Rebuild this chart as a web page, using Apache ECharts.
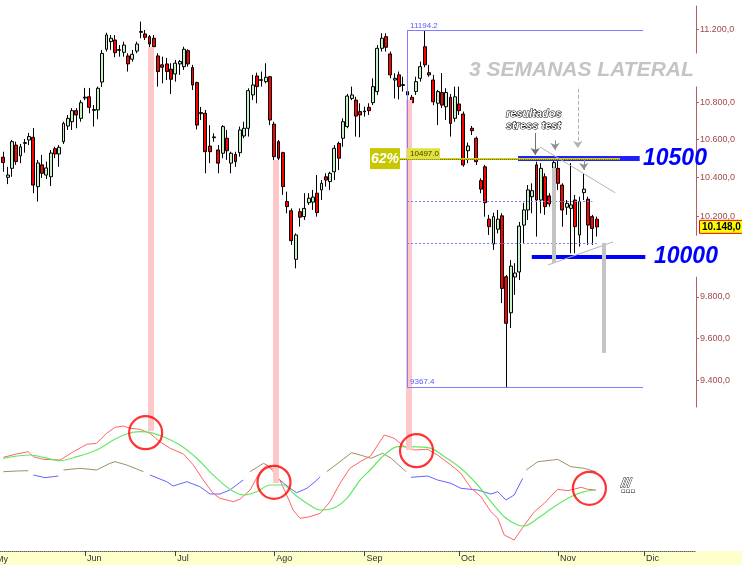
<!DOCTYPE html>
<html><head><meta charset="utf-8">
<script src="https://cdn.jsdelivr.net/npm/echarts@6/dist/echarts.min.js"></script>
<style>html,body{margin:0;padding:0;background:#fff}#c{width:742px;height:565px}</style>
</head><body><div id="c"></div>
<script>
// ---------- DATA ----------
const opens = [10507,10402,10449,10571,10514,10580,10598,10612,10354,10467,10414,10405,10552,10524,10589,10672,10695,10754,10713,10822,
10829,10760,10758,10909,11089,11131,11140,11083,11072,11052,11034,11079,11183,11174,11159,11150,11052,11003,11008,10979,
10953,11008,10993,11081,10988,10906,10738,10740,10566,10610,10545,10528,10607,10476,10522,10531,10619,10660,10839,10942,
10918,10911,10938,10682,10589,10531,10277,10230,9985,10225,10200,10271,10274,10320,10337,10405,10380,10431,10580,10607,
10669,10820,10811,10749,10748,10772,10797,10857,11094,11159,11063,10920,10948,10890,10857,10826,10857,10929,11103,10960,
10920,10794,10852,10775,10826,10713,10790,10736,10541,10660,10607,10385,10457,10187,10062,10136,10204,9898,9722,9897,
9922,10157,10234,10302,10467,10285,10405,10306,10449,10449,10362,10248,10242,10285,10107,10323,10289,10200,10187];
const closes = [10479,10414,10589,10484,10562,10584,10616,10362,10477,10423,10451,10529,10524,10559,10686,10713,10754,10731,10797,10827,
10772,10756,10875,11066,11168,11150,11070,11087,11112,11008,11061,11118,11188,11155,11118,11103,10966,10990,10966,10924,
11012,11021,11089,11008,10893,10677,10744,10536,10536,10614,10476,10669,10541,10528,10484,10651,10660,10862,10893,10884,
10922,10935,10704,10510,10502,10354,10251,10078,10107,10197,10242,10294,10300,10220,10371,10388,10423,10554,10502,10695,
10833,10839,10725,10731,10752,10754,10884,11094,11150,11100,10948,10929,10884,10895,10839,10797,10911,10993,11003,10948,
10802,10857,10784,10852,10686,10829,10754,10467,10566,10647,10484,10341,10271,10149,10200,10187,9841,9671,9951,9917,
10152,10234,10337,10333,10285,10449,10251,10265,10479,10371,10234,10268,10260,10149,10277,10341,10157,10140,10148];
const lows = [10431,10367,10405,10467,10476,10531,10571,10320,10277,10399,10393,10357,10502,10457,10577,10651,10651,10660,10695,10811,
10740,10669,10708,10882,11076,11085,11045,11048,11048,10966,11021,11067,11150,11140,11094,11085,10884,10902,10920,10844,
10911,10948,10975,10993,10866,10654,10704,10423,10476,10589,10423,10502,10493,10423,10457,10510,10607,10616,10811,10794,
10884,10902,10677,10476,10457,10311,10217,10057,9940,10149,10183,10260,10234,10200,10285,10354,10337,10388,10440,10562,
10660,10811,10616,10612,10722,10731,10784,10839,11076,11076,10929,10820,10815,10857,10820,10740,10839,10911,10990,10938,
10784,10677,10768,10704,10616,10695,10731,10457,10476,10624,10467,10320,10200,10107,10032,10115,9769,9367.4,9648,9809,
9882,10067,10183,10217,10099,10217,10209,10251,10414,10337,10149,10209,10015,10015,10049,10285,10057,10057,10099];
const highs = [10536,10457,10598,10589,10577,10603,10635,10661,10493,10519,10484,10545,10562,10571,10695,10731,10768,10768,10811,10877,
10877,10784,10884,11085,11181,11168,11168,11112,11131,11067,11085,11131,11243,11196,11168,11168,11067,11048,11041,11012,
11030,11030,11103,11089,11003,10911,10774,10758,10677,10633,10571,10677,10651,10536,10536,10669,10695,10875,10948,10960,
10966,11012,10942,10695,10598,10536,10328,10242,10115,10242,10320,10320,10337,10414,10388,10423,10431,10571,10589,10713,
10844,10884,10829,10794,10775,10794,10929,11112,11178,11178,11076,10957,10966,10938,10884,10839,10938,11021,11194.2,11003,
10948,10866,10958,10875,10844,10884,10884,10749,10584,10672,10616,10397,10467,10209,10220,10234,10217,9907,9981,9966,
10173,10270,10362,10371,10484,10476,10423,10320,10510,10493,10371,10285,10476,10311,10302,10423,10302,10209,10200];

// oscillator lines: [bar, value]
const fastLine = [[0,87.7],[3.1,91],[5.8,93.3],[7,88.3],[9.3,85.7],[13.2,85],[16.3,93.3],[19.4,100.7],[21.7,101.7],[24,111.7],[26,117.7],[27.9,119],[29.5,116.7],[31.8,115.7],[34.1,111.7],[36.4,103.3],[38.8,96.7],[41.9,91],[44.2,80],[46.5,65],[48.8,51.7],[50.4,46.7],[53.5,43.3],[55,45.7],[57.4,55],[59.7,73.3],[61.3,80],[62.8,73.3],[64.3,65],[65.9,50],[67.4,35],[69,26.7],[71.3,28.3],[73.7,31.7],[76,43.3],[78.3,61.7],[80.6,76.7],[83,83.3],[85.4,89],[88.6,110],[90.9,106.7],[93.3,98.3],[95.6,95],[98.7,95.7],[101,90],[104.1,80],[106.4,71.7],[108.8,56.7],[111.1,48.3],[113.4,33.3],[115,26.7],[116.5,10],[118.8,5],[121.2,20],[123.5,33.3],[125.8,41.7],[128.9,55.7],[131.3,54.3],[134.4,57.7],[135.9,55.7],[137.8,55]];
const slowLine = [[0,86.7],[6.2,90],[9.3,87.7],[13.2,84.3],[17.1,88.3],[21.7,95],[25.6,105],[28.7,111],[31.8,113.3],[34.1,112.7],[37.2,108.3],[41.1,100],[45,86.7],[48.8,70],[52.7,55.7],[55.8,50],[58.9,53.3],[62,60],[65.1,60],[67.4,51.7],[70.6,41.7],[73.7,35],[76.7,36.7],[79.9,46.7],[83,65],[85.3,75],[88.6,90],[91.7,98.3],[94.8,98.3],[99.5,96.7],[102.6,88.3],[106.4,76.7],[110.3,60],[113.4,43.3],[116.5,28.3],[119.6,20],[121.2,19],[124.3,26.7],[128.1,38.3],[132,48.3],[135.1,53.3],[137.8,55]];
const trendUpSegments = [
 [[0,73.3],[3.1,74],[5.8,74.3]],
 [[14,75],[17.8,76.7],[21.7,75],[24.8,81.7],[26,83.3],[28.7,80],[32.6,73.3]],
 [[57.4,73.3],[60.5,81.7],[62,78.3],[63.6,73]],
 [[75.2,73.3],[78.3,83.3],[81,92.3],[83,90],[85.5,86.7],[88.2,91.7],[90.2,86.7],[93.7,73.3]],
 [[121.6,75],[124.3,83.3],[127.8,85],[128.9,85.7],[132,78.3],[135.1,76.7],[137.8,73.3]]
];
const trendDownSegments = [
 [[7,70],[9.7,67.3],[12.8,69]],
 [[34.1,70],[38,63.3],[39.5,59],[42.7,63.3],[45.7,58.3],[48.1,51],[50.4,51],[52.7,55],[55.8,65]],
 [[64.3,65],[66.7,56.7],[68.2,52.3],[70.6,56.7],[72.5,63.3],[73.7,68.3]],
 [[94.8,67.7],[98.7,69],[101,65],[104.1,61.7],[106.4,56.7],[110.3,55],[113.4,51],[115,53.3],[116.9,45],[118.8,50],[120.8,66.7]]
];
const circleBars = [33.1, 62.95, 96.1, 136.3];
const circleValues = [112.3, 62.7, 94.3, 56.7];

// axis labels
const monthLabels = ['Jun','Jul','Ago','Sep','Oct','Nov','Dic'];
const monthBars = [19, 40, 63, 84, 106, 129, 149];
const priceTicks = [9400, 9600, 9800, 10200, 10400, 10600, 10800, 11200];

// annotation levels
const fibHigh = 11194.2, fibLow = 9367.4, fib618 = 10497.0, fib50 = 10280.8, fib382 = 10065.2;
const resistance = 10500, support = 10000, lastPrice = 10148;
const pinkBars = [34.35, 63.3, 94.35];
const pinkTopPrice = [11102, 10493, 10811];
const pinkBottomValue = [114, 62, 95];

// ---------- CHART ----------
const L = Math.log;
const X_MIN = -0.767, X_MAX = 161.09;
const P_MIN = 9275.2, P_MAX = 11331;
function fmt(v){const s=v.toFixed(1).split('.');return s[0].replace(/\B(?=(\d{3})+(?!\d))/g,'.')+','+s[1];}
function fmt0(v){return v.toFixed(1);}
const candleData = opens.map((o,i)=>[i,L(o),L(closes[i]),L(lows[i]),L(highs[i])]);
function seg(x1,p1,x2,p2,style){return [{coord:[x1,L(p1)],lineStyle:style},{coord:[x2,L(p2)]}];}
function oseg(x1,v1,x2,v2,style){return [{coord:[x1,v1],lineStyle:style},{coord:[x2,v2]}];}

const fibStart = 93.9, fibEnd = 148.8;
const pinkStyle = {color:'#ffc8c8', width:6, type:'solid', opacity:1};
const fibStyle = {color:'#8080ff', width:1, type:'solid'};
const fibDot = {color:'#7878ff', width:1, type:[2,2]};

const chart = echarts.init(document.getElementById('c'));
const series = [
 {type:'line', xAxisIndex:0, yAxisIndex:0, data:[], z:1, silent:true,
  markLine:{silent:true, symbol:['none','none'], label:{show:false}, animation:false,
   data:[
    ...pinkBars.map((b,k)=>seg(b,pinkTopPrice[k],b,P_MIN,pinkStyle)),
    seg(fibStart,fibHigh,fibStart,fibLow,fibStyle),
    seg(fibStart,fibHigh,fibEnd,fibHigh,fibStyle),
    seg(fibStart,fibLow,fibEnd,fibLow,fibStyle),
    seg(fibStart,fib50,137,fib50,fibDot),
    seg(fibStart,fib382,138,fib382,fibDot)
   ]}},
 {type:'candlestick', xAxisIndex:0, yAxisIndex:0, data:candleData, barWidth:3.4, z:3,
  itemStyle:{color:'#c4f4c4', color0:'#ff0000', borderColor:'#000', borderColor0:'#000', borderWidth:1}},
 {type:'line', xAxisIndex:0, yAxisIndex:0, data:[], z:4, silent:true,
  markLine:{silent:true, symbol:['none','none'], label:{show:false}, animation:false,
   data:[
    seg(119.7,resistance,148,resistance,{color:'#2020ff',width:5,type:'solid'}),
    seg(92.3,fib618,143.4,fib618,{color:'#d4d400',width:2,type:'solid'}),
    seg(92.3,fib618,143.4,fib618,{color:'#555',width:1,type:'dotted'}),
    seg(122.9,support,149.3,support,{color:'#0000ff',width:4,type:'solid'}),
    seg(124.8,10561,142.3,10322,{color:'#b4b4b4',width:1,type:'solid'}),
    seg(126.7,9957,141.8,10072,{color:'#b4b4b4',width:1,type:'solid'}),
    seg(127.9,10451,127.9,9966,{color:'#c4c4c4',width:4,type:'solid'}),
    seg(139.7,10067,139.7,9529,{color:'#c4c4c4',width:4,type:'solid'})
   ]}},
 {type:'line', xAxisIndex:0, yAxisIndex:0, data:[], z:4, silent:true,
  markLine:{silent:true, symbol:['none','arrow'], symbolSize:7, label:{show:false}, animation:false,
   data:[
    seg(133.6,10905,133.6,10556,{color:'#b0b0b0',width:1,type:'dashed'}),
    seg(123.7,10635,123.7,10519,{color:'#707070',width:1,type:'solid'}),
    seg(128.3,10596,128.3,10545,{color:'#909090',width:1,type:'solid'}),
    seg(135,10493,135,10440,{color:'#909090',width:1,type:'solid'})
   ]}},
 {type:'line', xAxisIndex:1, yAxisIndex:1, data:[], z:1, silent:true,
  markLine:{silent:true, symbol:['none','none'], label:{show:false}, animation:false,
   data: pinkBars.map((b,k)=>oseg(b,140,b,pinkBottomValue[k],pinkStyle))}},
 {type:'line', xAxisIndex:1, yAxisIndex:1, data:fastLine, showSymbol:false, z:3,
  lineStyle:{color:'#ff6464', width:1}},
 {type:'line', xAxisIndex:1, yAxisIndex:1, data:slowLine, showSymbol:false, smooth:0.3, z:3,
  lineStyle:{color:'#64e864', width:1.2}},
 ...trendUpSegments.map(s=>({type:'line', xAxisIndex:1, yAxisIndex:1, data:s, showSymbol:false, z:2,
  lineStyle:{color:'#a09064', width:1}})),
 ...trendDownSegments.map(s=>({type:'line', xAxisIndex:1, yAxisIndex:1, data:s, showSymbol:false, z:2,
  lineStyle:{color:'#6464ff', width:1}})),
 {type:'scatter', xAxisIndex:1, yAxisIndex:1, z:6, silent:true,
  data: circleBars.map((b,k)=>[b,circleValues[k]]), symbol:'circle', symbolSize:33,
  itemStyle:{color:'rgba(0,0,0,0)', borderColor:'#ff0000', borderWidth:2.2}}
];

chart.setOption({
 animation:false,
 backgroundColor:'#ffffff',
 grid:[
  {left:0, right:46, top:6, height:401, outerBoundsMode:'none'},
  {left:0, right:46, top:405, height:146, outerBoundsMode:'none'}
 ],
 xAxis:[
  {gridIndex:0, type:'value', min:X_MIN, max:X_MAX, show:false},
  {gridIndex:1, type:'value', min:X_MIN, max:X_MAX,
   axisLine:{show:true, onZero:false, lineStyle:{color:'#606060', type:'dotted', width:1}},
   axisTick:{show:true, customValues:monthBars, length:5, lineStyle:{color:'#404040'}},
   axisLabel:{show:true, customValues:monthBars, align:'left', padding:[0,0,0,2], margin:3,
    fontSize:9, color:'#303030', fontFamily:'Liberation Sans, Arial, sans-serif',
    formatter:v=>monthLabels[monthBars.indexOf(Math.round(v))] || ''},
   splitLine:{show:false}}
 ],
 yAxis:[
  {gridIndex:0, type:'value', min:L(P_MIN), max:L(P_MAX), position:'right',
   axisLine:{show:true, onZero:false, lineStyle:{color:'#b06060', width:1}},
   axisTick:{show:true, customValues:priceTicks.map(L), length:3, lineStyle:{color:'#b06060'}},
   axisLabel:{show:true, customValues:priceTicks.map(L), margin:4, fontSize:9, color:'#a04848',
    fontFamily:'Liberation Sans, Arial, sans-serif', formatter:v=>fmt(Math.exp(v))},
   splitLine:{show:false}},
  {gridIndex:1, type:'value', min:-6, max:140, show:false}
 ],
 series
});

const px = b => chart.convertToPixel({xAxisIndex:0}, b);
const py = p => chart.convertToPixel({yAxisIndex:0}, L(p));
const yF = py(fib618), xF = px(fibStart);
const font = 'Liberation Sans, Arial, sans-serif';
chart.setOption({graphic:[
 {type:'rect', z:-1, silent:true, shape:{x:0,y:551,width:742,height:14}, style:{fill:'#ffffcc'}},
 {type:'text', z:10, x:-4, y:555, style:{text:'My', font:'9px '+font, fill:'#303030'}},
 {type:'rect', z:10, shape:{x:370,y:yF-11,width:30,height:21}, style:{fill:'#c8c800'}},
 {type:'text', z:11, x:385, y:yF, style:{text:'62%', font:'italic bold 14px '+font, fill:'#ffffff', align:'center', verticalAlign:'middle'}},
 {type:'rect', z:10, shape:{x:xF,y:yF-11,width:33,height:11}, style:{fill:'#e2e23c'}},
 {type:'text', z:11, x:xF+3, y:yF-5.5, style:{text:fmt0(fib618), font:'8px '+font, fill:'#404000', verticalAlign:'middle'}},
 {type:'text', z:11, x:xF+3, y:py(fibHigh)-5, style:{text:String(fibHigh), font:'8px '+font, fill:'#5a5aff', verticalAlign:'middle'}},
 {type:'text', z:11, x:xF+3, y:py(fibLow)-5, style:{text:String(fibLow), font:'8px '+font, fill:'#5a5aff', verticalAlign:'middle'}},
 {type:'text', z:11, x:643, y:py(resistance), style:{text:'10500', font:'italic bold 23px '+font, fill:'#0000ff', verticalAlign:'middle'}},
 {type:'text', z:11, x:650, y:py(support), style:{text:'10000', font:'italic bold 23px '+font, fill:'#0000ff', verticalAlign:'middle', backgroundColor:'#ffffff', padding:[8,4,10,4]}},
 {type:'text', z:11, x:467, y:70, style:{text:'3 SEMANAS LATERAL', font:'italic bold 21px '+font, fill:'#c4c4c4', verticalAlign:'middle', backgroundColor:'#ffffff', padding:[7,4,5,2]}},
 {type:'text', z:11, x:506, y:108, style:{text:'resultados\nstress test', font:'italic bold 11px '+font, fill:'#ffffff', stroke:'#000000', lineWidth:1, lineHeight:12}},
 {type:'rect', z:10, shape:{x:699.5,y:py(lastPrice)-6.5,width:45,height:13}, style:{fill:'#ffff00', stroke:'#ff0000', lineWidth:1}},
 {type:'text', z:11, x:702, y:py(lastPrice), style:{text:fmt(lastPrice), font:'bold 10px '+font, fill:'#000000', verticalAlign:'middle'}},
 {type:'text', z:11, x:621, y:478, style:{text:'///', font:'italic bold 12px '+font, fill:'#ffffff', stroke:'#000000', lineWidth:0.8}},
 {type:'text', z:11, x:621, y:488, style:{text:'\u25AB\u25AB\u25AB', font:'7px DejaVu Sans', fill:'#000000'}}
]});
</script>
</body></html>
